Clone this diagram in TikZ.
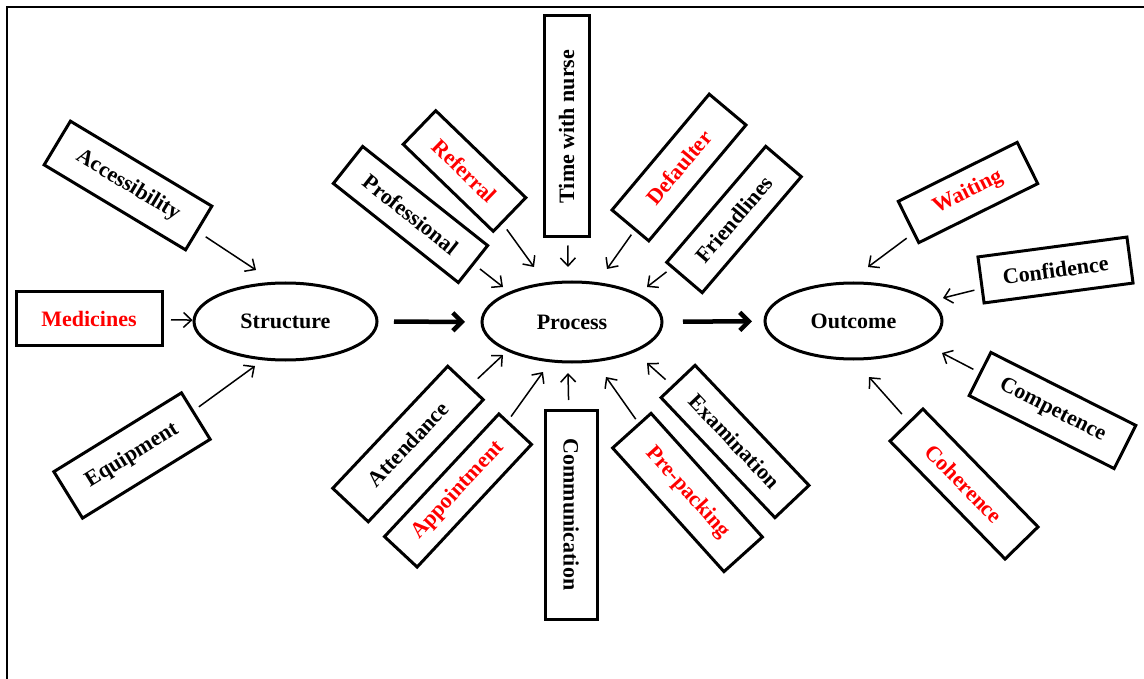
\documentclass[tikz,border=0pt]{standalone}
\usepackage{fontspec}
\setmainfont{Liberation Serif}
\usetikzlibrary{arrows.meta,shapes.geometric}
\begin{document}
\begin{tikzpicture}[x=1pt,y=-1pt,
  box/.style={draw,line width=3pt,inner sep=0pt,font=\fontsize{22}{26}\selectfont\bfseries},
  ell/.style={draw,ellipse,line width=3pt,inner sep=0pt,font=\fontsize{22}{26}\selectfont\bfseries},
  arr/.style={-{Straight Barb[length=8pt,width=15pt]},line width=1.5pt},
  big/.style={-{Straight Barb[length=9pt,width=18pt]},line width=4.5pt},
  hi/.style={text=red}]
\useasboundingbox (0,0) rectangle (1144,679);
\draw[line width=2pt] (7,679) -- (7,7) -- (1144,7);

% ellipses
\node[ell,minimum width=183pt,minimum height=77pt] (struct) at (285.5,321.5) {Structure};
\node[ell,minimum width=180pt,minimum height=80pt] (proc) at (572,322) {Process};
\node[ell,minimum width=177pt,minimum height=76pt] (out) at (853.5,321) {Outcome};

% structure factors
\node[box,minimum width=165pt,minimum height=51pt,rotate=-31] (acc) at (128,185.5) {Accessibility};
\node[box,hi,minimum width=146pt,minimum height=53pt] (med) at (89,318.5) {Medicines};
\node[box,minimum width=150pt,minimum height=54.6pt,rotate=31.7] (equip) at (132,455.5) {Equipment};

% process factors
\node[box,minimum width=159.5pt,minimum height=47.2pt,rotate=-38.4] (prof) at (410.5,214.5) {Professional};
\node[box,hi,minimum width=125.2pt,minimum height=46.8pt,rotate=-44] (ref) at (464.5,171) {Referral};
\node[box,minimum width=221pt,minimum height=45pt,rotate=90] (time) at (566.5,126.5) {Time with nurse};
\node[box,hi,minimum width=151.2pt,minimum height=48pt,rotate=50] (def) at (679,167.5) {Defaulter};
\node[box,minimum width=152.5pt,minimum height=46.7pt,rotate=49.5] (fri) at (734,219.5) {Friendlines};
\node[box,minimum width=167.7pt,minimum height=48.8pt,rotate=46.7] (att) at (408,444) {Attendance};
\node[box,hi,minimum width=167.7pt,minimum height=44.6pt,rotate=47] (app) at (458,490.5) {Appointment};
\node[box,minimum width=209pt,minimum height=52pt,rotate=-90] (com) at (571,514.5) {Communication};
\node[box,hi,minimum width=166.4pt,minimum height=51.7pt,rotate=-48] (pre) at (687.5,492.5) {Pre-packing};
\node[box,minimum width=165.5pt,minimum height=46.9pt,rotate=-46.5] (exa) at (735,441.5) {Examination};

% outcome factors
\node[box,hi,minimum width=132.8pt,minimum height=46.1pt,rotate=26.4] (wai) at (968,192.5) {Waiting};
\node[box,minimum width=150.3pt,minimum height=46.4pt,rotate=7.6] (con) at (1055.5,270) {Confidence};
\node[box,minimum width=162.3pt,minimum height=48.3pt,rotate=-26.7] (cmp) at (1052.5,410.5) {Competence};
\node[box,hi,minimum width=164.8pt,minimum height=46pt,rotate=-45.7] (coh) at (964,484) {Coherence};

% arrow tips
\coordinate (tAcc) at (256,270);
\coordinate (tEq) at (255,366);
\coordinate (tProf) at (503,287);
\coordinate (tRef) at (534,267);
\coordinate (tTime) at (568,267);
\coordinate (tDef) at (607,269);
\coordinate (tFri) at (647,287);
\coordinate (tAtt) at (503,355);
\coordinate (tApp) at (543,372);
\coordinate (tCom) at (568,373);
\coordinate (tPre) at (606,377);
\coordinate (tExa) at (647,363);
\coordinate (tWai) at (868,267);
\coordinate (tCon) at (943,298);
\coordinate (tCmp) at (942,353);
\coordinate (tCoh) at (869,377);

\draw[arr,shorten <=9pt] (acc) -- (tAcc);
\draw[arr,shorten <=7.5pt] (med) -- (struct);
\draw[arr,shorten <=6pt] (equip) -- (tEq);
\draw[arr,shorten <=7pt] (prof) -- (tProf);
\draw[arr,shorten <=7pt] (ref) -- (tRef);
\draw[arr,shorten <=7pt] (time) -- (tTime);
\draw[arr,shorten <=5pt] (def) -- (tDef);
\draw[arr,shorten <=6pt] (fri) -- (tFri);
\draw[arr,shorten <=10pt] (att) -- (tAtt);
\draw[arr,shorten <=5pt] (app) -- (tApp);
\draw[arr,shorten <=8.5pt] (com) -- (tCom);
\draw[arr,shorten <=4.5pt] (pre) -- (tPre);
\draw[arr,shorten <=8.5pt] (exa) -- (tExa);
\draw[arr,shorten <=7.5pt] (wai) -- (tWai);
\draw[arr,shorten <=6.5pt] (con) -- (tCon);
\draw[arr,shorten <=6.5pt] (cmp) -- (tCmp);
\draw[arr,shorten <=9.5pt] (coh) -- (tCoh);

\draw[big,shorten <=15.5pt,shorten >=15.5pt] (struct) -- (proc);
\draw[big,shorten <=19.5pt,shorten >=11.5pt] (proc) -- (out);
\end{tikzpicture}
\end{document}
